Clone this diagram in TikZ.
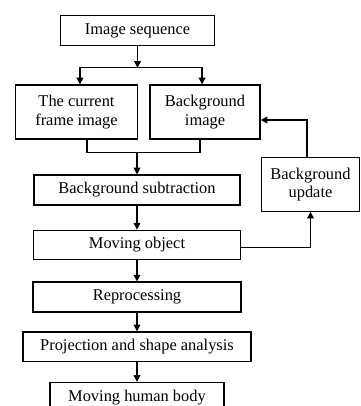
\documentclass[tikz,border=0pt]{standalone}
\usepackage{fontspec}
\setmainfont{Liberation Serif}
\usetikzlibrary{positioning,arrows.meta}

\begin{document}
\begin{tikzpicture}[
    x=0.75pt, y=-0.75pt,
    line width=0.9pt,
    flow box/.style={rectangle, draw=black, line width=0.9pt, align=center, inner sep=2pt,
                     font=\fontsize{12.3}{14}\selectfont, minimum height=22pt},
    flow arrow/.style={-{Triangle[length=5pt, width=5pt]}}
]
  \useasboundingbox (0,0) rectangle (360,406);

  \node[flow box, minimum width=115pt] (seq) at (137.5,30.5) {Image sequence};
  \node[flow box, minimum width=92pt, minimum height=40.5pt] (cur) at (76.5,112) {The current\\frame image};
  \node[flow box, minimum width=82.5pt, minimum height=40.5pt] (bgimg) at (205,112) {Background\\image};
  \node[flow box, minimum width=154.5pt, minimum height=22.5pt] (sub) at (137,190) {Background subtraction};
  \node[flow box, minimum width=155pt] (mov) [below=18pt of sub] {Moving object};
  \node[flow box, minimum width=156pt, minimum height=22.5pt] (rep) [below=16pt of mov] {Reprocessing};
  \node[flow box, minimum width=171pt] (proj) [below=14pt of rep] {Projection and shape analysis};
  \node[flow box, minimum width=130.5pt] (body) [below=15pt of proj] {Moving human body};
  \node[flow box, minimum width=74pt, minimum height=40pt] (upd) at (310.5,184.5) {Background\\update};

  \coordinate (split) at ([yshift=-16.5pt]seq.south);
  \coordinate (merge) at ([yshift=-9.75pt]cur.south -| sub.north);

  \draw[flow arrow] (seq) -- (split);
  \draw[flow arrow] (split) -| ([xshift=2.6pt]cur.north);
  \draw[flow arrow] (split) -| ([xshift=-2.2pt]bgimg.north);
  \draw ([xshift=7.9pt]cur.south) |- (merge) -| ([xshift=-3.75pt]bgimg.south);
  \draw[flow arrow] (merge) -- (sub);
  \draw[flow arrow] (sub) -- (mov);
  \draw[flow arrow] (mov) -- (rep);
  \draw[flow arrow] (rep) -- (proj);
  \draw[flow arrow] (proj) -- (body);
  \draw[flow arrow] ([yshift=-1.9pt]mov.east) -| (upd.south);
  \draw[flow arrow] ([xshift=-2.6pt]upd.north) |- ([yshift=-6pt]bgimg.east);
\end{tikzpicture}
\end{document}
